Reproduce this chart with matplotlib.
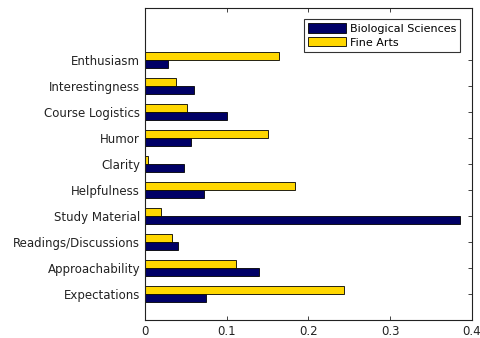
import matplotlib
matplotlib.use("Agg")
import matplotlib.pyplot as plt
import numpy as np

categories = ["Enthusiasm", "Interestingness", "Course Logistics", "Humor", "Clarity",
              "Helpfulness", "Study Material", "Readings/Discussions", "Approachability",
              "Expectations"]
bio = [0.028, 0.060, 0.100, 0.056, 0.048, 0.072, 0.385, 0.040, 0.139, 0.075]
arts = [0.164, 0.038, 0.051, 0.151, 0.004, 0.184, 0.020, 0.033, 0.111, 0.244]
xticks = [0, 0.1, 0.2, 0.3, 0.4]
xticklabels = ["0", "0.1", "0.2", "0.3", "0.4"]

fig = plt.figure(figsize=(4.8, 3.38), dpi=100)
ax = fig.add_axes([0.302, 0.053, 0.681, 0.923])

n = len(categories)
pos = np.arange(n, 0, -1)
h = 0.3
navy = "#000066"
gold = "#FFD700"
ax.barh(pos, bio, height=-h, align="edge", color=navy, edgecolor="black",
        linewidth=0.6, label="Biological Sciences")
ax.barh(pos, arts, height=h, align="edge", color=gold, edgecolor="black",
        linewidth=0.6, label="Fine Arts")

ax.set_ylim(0, 12)
ax.set_xlim(0, 0.4)
ax.set_yticks(pos)
ax.set_yticklabels(categories)
ax.set_xticks(xticks)
ax.set_xticklabels(xticklabels)
ax.tick_params(direction="in", top=True, right=True, length=3, width=0.6,
               labelsize=8.5, colors="#222222", labelcolor="#222222")
ax.tick_params(axis="y", left=False, right=True, length=3)
for s in ax.spines.values():
    s.set_linewidth(0.8)
    s.set_color("#222222")

leg = ax.legend(loc="upper right", fontsize=8, frameon=True, fancybox=False,
                edgecolor="black", handlelength=3.4, handleheight=0.9,
                borderpad=0.4, labelspacing=0.3, handletextpad=0.3,
                bbox_to_anchor=(0.965, 0.965), borderaxespad=0)
leg.get_frame().set_linewidth(0.8)

fig.savefig("out.png", dpi=100)
